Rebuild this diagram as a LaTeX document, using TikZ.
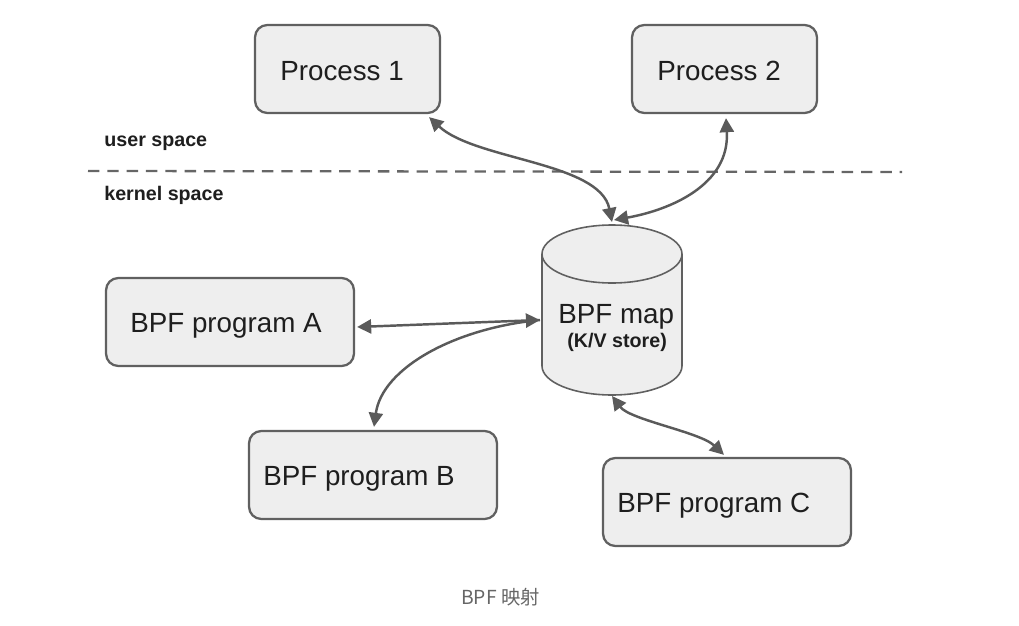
\documentclass[tikz,border=0pt]{standalone}
\usepackage{fontspec}
\setmainfont{Liberation Sans}
\newfontfamily\cjk{Noto Sans CJK SC}
\usetikzlibrary{arrows.meta}
\definecolor{boxfill}{HTML}{EEEEEE}
\definecolor{boxline}{HTML}{606060}
\definecolor{arrowc}{HTML}{5A5A5A}
\definecolor{captc}{HTML}{666666}
\definecolor{txtc}{HTML}{1E1E1E}
\tikzset{
  box/.style={draw=boxline, fill=boxfill, line width=1.3pt, rounded corners=7pt,
    minimum width=3.7cm, minimum height=1.76cm, inner sep=0pt},
  widebox/.style={box, minimum width=4.96cm},
  boxtext/.style={anchor=base west, inner sep=0pt, text=txtc, font=\fontsize{15.8pt}{18pt}\selectfont},
  smalltext/.style={anchor=base west, inner sep=0pt, text=txtc, font=\bfseries\fontsize{11.2pt}{13pt}\selectfont},
  conn/.style={draw=arrowc, line width=1.4pt, {Triangle[length=8pt,width=8pt]}-{Triangle[length=8pt,width=8pt]}},
  connone/.style={draw=arrowc, line width=1.4pt, -{Triangle[length=8pt,width=8pt]}},
}
\begin{document}
\begin{tikzpicture}[x=0.02cm, y=-0.02cm]
\useasboundingbox (0,0) rectangle (1019,626);

% separator
\coordinate (sepL) at (88,171);
\coordinate (sepR) at (902,172);
\draw[captc, line width=1.3pt, dash pattern=on 6.5pt off 4.5pt] (sepL) -- (sepR);
\node[smalltext] (user) at (104,146) {user space};
\node[smalltext] (kernel) at (104,200) {kernel space};

% boxes
\node[box] (p1) at (347.5,69) {};
\node[boxtext] (p1t) at (280,80) {Process 1};
\node[box] (p2) at (724.5,69) {};
\node[boxtext] (p2t) at (657,80) {Process 2};
\node[widebox] (pa) at (230,322) {};
\node[boxtext] (pat) at (130,332) {BPF program A};
\node[widebox] (pb) at (373,475) {};
\node[boxtext] (pbt) at (263,485) {BPF program B};
\node[widebox] (pc) at (727,502) {};
\node[boxtext] (pct) at (617,512) {BPF program C};

% cylinder (BPF map)
\draw[draw=boxline, fill=boxfill, line width=0.9pt]
  (542,254) -- (542,366) arc (180:0:70 and 29) -- (682,254) arc (0:-180:70 and 29) -- cycle;
\draw[draw=boxline, line width=0.9pt] (542,254) arc (180:0:70 and 29);
\node[boxtext] (map) at (558,323) {BPF map};
\node[smalltext] (mapsub) at (567,347) {(K/V store)};
\coordinate (mapTop) at (612,222);
\coordinate (mapTop2) at (614,220);
\coordinate (mapLeft) at (540,320);
\coordinate (mapBot) at (612,396);

% connectors
\draw[conn] ([shift={(-12,3)}]p1.south east) .. controls (475,160) and (600,162) .. (mapTop);
\draw[conn] ([shift={(1.5,4)}]p2.south) .. controls (730,185) and (670,210) .. (mapTop2);
\draw[conn] ([shift={(2,5)}]pa.east) -- (mapLeft);
\draw[connone] (mapLeft) .. controls (455,328) and (382,368) .. ([shift={(1,-3)}]pb.north);
\draw[conn] (mapBot) .. controls (630,420) and (700,432) .. ([shift={(-3,-2)}]pc.north);

% caption
\node[anchor=base, inner sep=0pt, text=captc, font=\cjk\fontsize{11pt}{13pt}\selectfont] (cap) at (500.5,604) {BPF 映射};
\end{tikzpicture}
\end{document}
